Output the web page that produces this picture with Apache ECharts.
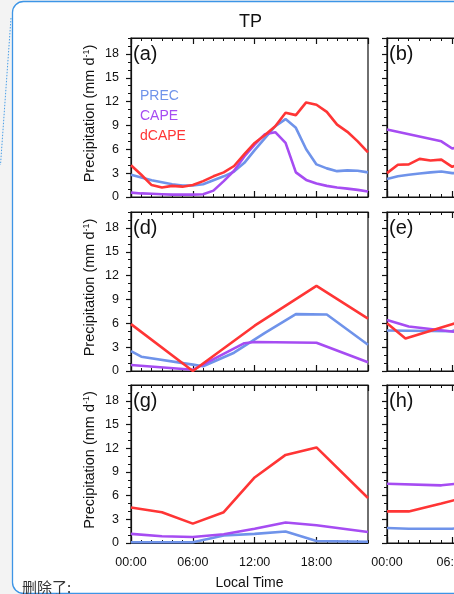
<!DOCTYPE html>
<html>
<head>
<meta charset="utf-8">
<title>TP diurnal precipitation</title>
<script src="https://cdn.jsdelivr.net/npm/echarts@6/dist/echarts.min.js"></script>
<style>
  html, body { margin: 0; padding: 0; background: #f3f3f3; }
  #chart { width: 454px; height: 594px; }
</style>
</head>
<body>
<div id="chart"></div>
<script>
  // ---- data (local hour, mm/day) ----
  const hours = [0, 1, 2, 3, 4, 5, 6, 7, 8, 9, 10, 11, 12, 13, 14, 15, 16, 17, 18, 19, 20, 21, 22, 23];
  const seriesNames = ['PREC', 'CAPE', 'dCAPE'];

  // (a) hourly
  const precA = [2.8, 2.45, 2.1, 1.85, 1.6, 1.45, 1.45, 1.6, 2.1, 2.6, 3.2, 4.3, 5.9, 7.4, 8.9, 9.8, 8.7, 6.0, 4.1, 3.6, 3.25, 3.35, 3.3, 3.1];
  const capeA = [0.55, 0.45, 0.4, 0.35, 0.3, 0.3, 0.3, 0.35, 0.8, 2.0, 3.3, 5.1, 6.6, 7.9, 8.15, 6.8, 3.1, 2.15, 1.7, 1.4, 1.2, 1.05, 0.9, 0.7];
  const dcapeA = [4.0, 2.8, 1.5, 1.2, 1.4, 1.3, 1.5, 2.0, 2.6, 3.1, 3.9, 5.4, 6.8, 7.8, 8.9, 10.6, 10.3, 11.9, 11.6, 10.7, 9.1, 8.2, 7.0, 5.6];

  // (b)
  const precB = [[0, 2.25], [1, 2.6], [2, 2.8], [3, 2.95], [4, 3.1], [5, 3.2], [6, 3.0], [7, 3.0]];
  const capeB = [[0, 8.5], [5, 7.0], [6, 6.1], [7, 6.4]];
  const dcapeB = [[0, 3.0], [1, 4.05], [2, 4.1], [3, 4.8], [4, 4.6], [5, 4.7], [6, 3.8], [7, 4.3]];

  // (d)
  const precD = [[0, 2.5], [1, 1.8], [6, 0.8], [7, 0.6], [10, 2.3], [13, 4.8], [16, 7.15], [19, 7.1], [23, 3.3]];
  const capeD = [[0, 0.75], [6, 0.15], [11, 3.5], [12, 3.65], [18, 3.55], [23, 1.1]];
  const dcapeD = [[0, 5.9], [6, 0], [12, 5.7], [18, 10.7], [23, 6.6]];

  // (e)
  const precE = [[0, 5.1], [6, 5.0], [7, 5.6]];
  const capeE = [[0, 6.4], [2, 5.6], [7, 4.8]];
  const dcapeE = [[0, 6.0], [1.7, 4.1], [7, 6.3]];

  // (g)
  const precG = [[0, 0.1], [6, 0.1], [9, 0.95], [12, 1.15], [15, 1.45], [18, 0.25], [23, 0.15]];
  const capeG = [[0, 1.15], [3, 0.85], [6, 0.75], [9, 1.1], [12, 1.8], [15, 2.6], [18, 2.25], [23, 1.4]];
  const dcapeG = [[0, 4.5], [3, 3.9], [6, 2.45], [9, 3.9], [12, 8.3], [15, 11.15], [18, 12.1], [23, 5.7]];

  // (h)
  const precH = [[0, 1.9], [2, 1.8], [6, 1.8], [7, 2.0]];
  const capeH = [[0, 7.5], [5, 7.3], [7, 7.6]];
  const dcapeH = [[0, 4.0], [2, 4.0], [5, 5.0], [7, 5.7]];

  const hourly = arr => hours.map((h, i) => [h, arr[i]]);

  const panels = [
    { tag: '(a)', row: 0, col: 0, lines: [hourly(precA), hourly(capeA), hourly(dcapeA)] },
    { tag: '(b)', row: 0, col: 1, lines: [precB, capeB, dcapeB] },
    { tag: '(d)', row: 1, col: 0, lines: [precD, capeD, dcapeD] },
    { tag: '(e)', row: 1, col: 1, lines: [precE, capeE, dcapeE] },
    { tag: '(g)', row: 2, col: 0, lines: [precG, capeG, dcapeG] },
    { tag: '(h)', row: 2, col: 1, lines: [precH, capeH, dcapeH] }
  ];

  // ---- layout / style ----
  const colors = ['#6f93ea', '#a64cf2', '#ff3535'];
  const font = '"Liberation Sans", Arial, Helvetica, sans-serif';
  const W = 454;
  const rowTop = [38, 212, 385];
  const rowH = [159, 159, 158];
  const colLeft = [131, 387];
  const colW = [237, 250];
  const axisColor = '#111';

  const pad2 = n => (n < 10 ? '0' : '') + n + ':00';

  const grid = [], xAxis = [], yAxis = [], series = [], graphic = [];

  panels.forEach((p, i) => {
    grid.push({
      left: colLeft[p.col], top: rowTop[p.row],
      right: W - colLeft[p.col] - colW[p.col], height: rowH[p.row],
      outerBoundsMode: 'none', containLabel: false,
      show: true, borderColor: axisColor, borderWidth: 1.2,
      backgroundColor: 'transparent'
    });
    const bottomRow = p.row === 2;
    const base = { gridIndex: i, type: 'value', min: 0, max: 23, splitLine: { show: false } };
    const xi = xAxis.length;
    // bottom major (labels)
    xAxis.push(Object.assign({}, base, {
      position: 'bottom', interval: 6,
      axisLine: { show: true, lineStyle: { color: axisColor, width: 1.2 } },
      axisTick: { show: true, inside: true, length: 6, lineStyle: { color: axisColor, width: 1.2 } },
      axisLabel: {
        show: bottomRow, showMaxLabel: false, margin: 13,
        fontFamily: font, fontSize: 12.5, color: '#111',
        formatter: v => pad2(v)
      },
      name: bottomRow && p.col === 0 ? 'Local Time' : '',
      nameLocation: 'middle', nameGap: 33, nameMoveOverlap: false,
      nameTextStyle: { fontFamily: font, fontSize: 14, color: '#111' }
    }));
    // bottom minor
    xAxis.push(Object.assign({}, base, {
      position: 'bottom', interval: 1,
      axisLine: { show: false },
      axisTick: { show: true, inside: true, length: 3, lineStyle: { color: axisColor, width: 1 } },
      axisLabel: { show: false }
    }));
    // top major + minor
    xAxis.push(Object.assign({}, base, {
      position: 'top', interval: 6,
      axisLine: { show: true, lineStyle: { color: axisColor, width: 1.2 } },
      axisTick: { show: true, inside: true, length: 6, lineStyle: { color: axisColor, width: 1.2 } },
      axisLabel: { show: false }
    }));
    xAxis.push(Object.assign({}, base, {
      position: 'top', interval: 1,
      axisLine: { show: false },
      axisTick: { show: true, inside: true, length: 3, lineStyle: { color: axisColor, width: 1 } },
      axisLabel: { show: false }
    }));

    const ybase = { gridIndex: i, type: 'value', min: 0, max: 20, position: 'left', splitLine: { show: false } };
    const yi = yAxis.length;
    yAxis.push(Object.assign({}, ybase, {
      interval: 3,
      axisLine: { show: true, lineStyle: { color: axisColor, width: 1.2 } },
      axisTick: { show: true, inside: false, length: 5, lineStyle: { color: axisColor, width: 1.2 } },
      axisLabel: {
        show: p.col === 0, showMaxLabel: false, margin: 12,
        fontFamily: font, fontSize: 12.5, color: '#111'
      },
      name: p.col === 0 ? 'Precipitation (mm d{sup|-1})' : '',
      nameLocation: 'middle', nameRotate: 90, nameGap: 33, nameMoveOverlap: false,
      nameTextStyle: {
        fontFamily: font, fontSize: 14.5, color: '#111', lineHeight: 16,
        padding: [0, 0, 0, 8],
        rich: { sup: { fontFamily: font, fontSize: 9, lineHeight: 9, verticalAlign: 'top', color: '#111' } }
      }
    }));
    yAxis.push(Object.assign({}, ybase, {
      interval: 1,
      axisLine: { show: false },
      axisTick: { show: true, inside: false, length: 3, lineStyle: { color: axisColor, width: 1 } },
      axisLabel: { show: false }
    }));

    p.lines.forEach((d, k) => {
      series.push({
        name: seriesNames[k], type: 'line', xAxisIndex: xi, yAxisIndex: yi,
        data: d, showSymbol: false, symbol: 'none', smooth: false, clip: true,
        lineStyle: { color: colors[k], width: 2.6 }, itemStyle: { color: colors[k] },
        z: 3 + k
      });
    });

    graphic.push({
      type: 'text', left: colLeft[p.col] + 2, top: rowTop[p.row] + 6, z: 10,
      style: { text: p.tag, font: '20px ' + font, fill: '#111' }
    });
  });

  // frame, title and leftover caption
  graphic.unshift(
    { type: 'rect', z: -20, silent: true, shape: { x: 12.5, y: 1.5, width: 520, height: 592, r: 11 },
      style: { fill: '#fff', stroke: '#3d95e6', lineWidth: 1.3 } },
    { type: 'line', z: -19, silent: true, shape: { x1: 11, y1: 18, x2: 0.5, y2: 165 },
      style: { stroke: '#4a9fe8', lineWidth: 1, lineDash: [1.5, 1.5] } },
    { type: 'text', z: 10, left: 239, top: 13,
      style: { text: 'TP', font: '18px ' + font, fill: '#111' } },
    { type: 'text', z: 10, left: 22, top: 580,
      style: { text: '删除了:', font: '15px "Noto Sans CJK SC", sans-serif', fill: '#333' } }
  );

  const chart = echarts.init(document.getElementById('chart'), null, { renderer: 'canvas' });
  chart.setOption({
    animation: false,
    backgroundColor: '#f3f3f3',
    grid, xAxis, yAxis, series, graphic,
    legend: {
      orient: 'vertical', left: 130, top: 84, itemGap: 6, itemWidth: 0, itemHeight: 14,
      icon: 'none', selectedMode: false,
      textStyle: { fontFamily: font, fontSize: 14 },
      data: seriesNames.map((n, k) => ({ name: n, textStyle: { color: colors[k] } }))
    }
  });
</script>
</body>
</html>
